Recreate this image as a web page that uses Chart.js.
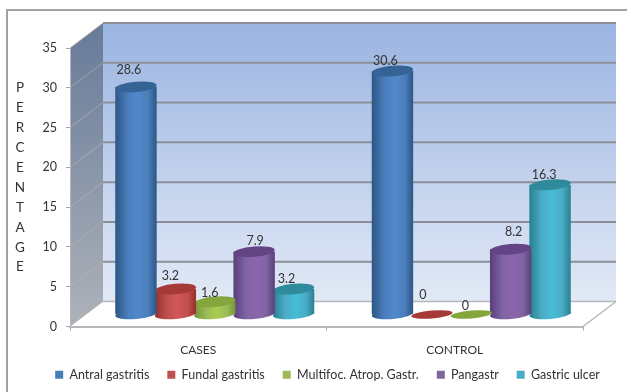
<!DOCTYPE html>
<html>
<head>
<meta charset="utf-8">
<style>
  html, body { margin: 0; padding: 0; background: #fff; }
  canvas { display: block; }
</style>
<script src="https://cdn.jsdelivr.net/npm/chart.js@4/dist/chart.umd.min.js"></script>
</head>
<body>
<canvas id="chart" width="627" height="392"></canvas>
<script>
// Gastric findings by study group, in percent
const categories = ['CASES', 'CONTROL'];
const seriesNames = ['Antral gastritis', 'Fundal gastritis', 'Multifoc. Atrop. Gastr.', 'Pangastr', 'Gastric ulcer'];
const antral = [28.6, 30.6];
const fundal = [3.2, 0];
const multifocal = [1.6, 0];
const pangastr = [7.9, 8.2];
const ulcer = [3.2, 16.3];
const seriesValues = [antral, fundal, multifocal, pangastr, ulcer];
const yTitleLetters = ['P', 'E', 'R', 'C', 'E', 'N', 'T', 'A', 'G', 'E'];

// Cylinder shading per series: edge, centre, cap
const palette = [
  { fill: '#4a7ebb', edge: '#2c5685', mid: '#5089cb', cap: '#366396' },
  { fill: '#c0504d', edge: '#93302d', mid: '#d4565a', cap: '#a63a36' },
  { fill: '#9bbb59', edge: '#769436', mid: '#a9cc4f', cap: '#84a63c' },
  { fill: '#8064a2', edge: '#5a3f7d', mid: '#8a65ac', cap: '#634484' },
  { fill: '#4bacc6', edge: '#27808f', mid: '#47bcd8', cap: '#2f8b9b' }
];

// Label nudges from the top of each cylinder, [dx, dy] per series and group
const labelNudge = [
  [[-7, -17], [-7, -10]],
  [[-5, -13], [-9, -20]],
  [[-5, -9], [-6, -9]],
  [[1, -11], [3, -17]],
  [[-7, -10], [-6, -10]]
];

// Projection of the 3D box: back wall offset and the plane the cylinders stand on
const wallDX = 33, wallDY = -25;
const barDX = 16.5, barDY = -12;
const legendShift = 36;
const TEXT = '#333';
const FONT = 'Lato, Carlito, sans-serif';

const box3d = {
  id: 'box3d',
  afterLayout(chart) {
    // The legend centres on the full canvas, not on the inset plot box
    chart.legend.left += legendShift;
    chart.legend.right += legendShift;
    // Category labels sit lower than the reserved band, so widen their clip box
    chart.scales.x.bottom += 16;
  },
  beforeDraw(chart) {
    const { ctx, chartArea: a, scales: { y } } = chart;
    const x0 = a.left, x1 = a.right, yT = a.top, yB = a.bottom;
    ctx.save();

    // Outer frame
    ctx.fillStyle = '#fff';
    ctx.fillRect(0, 0, chart.width, chart.height);
    ctx.strokeStyle = '#a3a3a3';
    ctx.lineWidth = 2;
    ctx.beginPath();
    ctx.moveTo(7, chart.height);
    ctx.lineTo(7, 10);
    ctx.lineTo(chart.width, 10);
    ctx.stroke();

    // Back wall
    let g = ctx.createLinearGradient(0, yT + wallDY, 0, yB + wallDY);
    g.addColorStop(0, '#9ab4e1');
    g.addColorStop(1, '#e2e9f6');
    ctx.fillStyle = g;
    ctx.fillRect(x0 + wallDX, yT + wallDY, x1 - x0, yB - yT);

    // Side wall
    g = ctx.createLinearGradient(0, yT + wallDY, 0, yB);
    g.addColorStop(0, '#667a99');
    g.addColorStop(1, '#aeb2b9');
    ctx.fillStyle = g;
    ctx.beginPath();
    ctx.moveTo(x0, yT);
    ctx.lineTo(x0 + wallDX, yT + wallDY);
    ctx.lineTo(x0 + wallDX, yB + wallDY);
    ctx.lineTo(x0, yB);
    ctx.closePath();
    ctx.fill();

    // Grid lines run across the back wall and fade along the side wall
    y.ticks.forEach(t => {
      const py = y.getPixelForValue(t.value);
      ctx.strokeStyle = 'rgba(190,182,165,0.65)';
      ctx.lineWidth = 1;
      ctx.beginPath();
      ctx.moveTo(x0, py);
      ctx.lineTo(x0 + wallDX, py + wallDY);
      ctx.stroke();

      ctx.strokeStyle = t.value === 0 ? '#b4b8bd' : '#8b9098';
      ctx.lineWidth = t.value === 0 ? 1.5 : 2;
      ctx.beginPath();
      ctx.moveTo(x0 + wallDX, py + wallDY);
      ctx.lineTo(x1 + wallDX, py + wallDY);
      ctx.stroke();
    });

    // Floor edges
    ctx.strokeStyle = '#b4b8bd';
    ctx.lineWidth = 1.5;
    ctx.beginPath();
    ctx.moveTo(x1, yB);
    ctx.lineTo(x1 + wallDX, yB + wallDY);
    ctx.stroke();

    // Stacked axis title
    ctx.fillStyle = TEXT;
    ctx.font = '13.5px ' + FONT;
    ctx.textAlign = 'center';
    ctx.textBaseline = 'middle';
    yTitleLetters.forEach((ch, i) => ctx.fillText(ch, 20, 88 + i * 19.9));
    ctx.restore();
  },

  // Each dataset draws as upright cylinders in place of flat rectangles
  beforeDatasetDraw(chart, { index }) {
    const { ctx } = chart;
    const colours = palette[index];
    chart.getDatasetMeta(index).data.forEach((bar, i) => {
      const cx = bar.x + barDX;
      const top = bar.y + barDY;
      const base = bar.base + barDY;
      const rx = bar.width / 2 + 1;
      const tilt = -5 * Math.PI / 180;
      const value = seriesValues[index][i];
      ctx.save();
      if (value > 0) {
        const g = ctx.createLinearGradient(cx - rx, 0, cx + rx, 0);
        g.addColorStop(0, colours.edge);
        g.addColorStop(0.3, colours.fill);
        g.addColorStop(0.55, colours.mid);
        g.addColorStop(0.8, colours.fill);
        g.addColorStop(1, colours.edge);
        ctx.fillStyle = g;
        ctx.beginPath();
        ctx.ellipse(cx, base, rx, 5, tilt, 0, Math.PI * 2);
        ctx.fill();
        ctx.fillRect(cx - rx, top, rx * 2, base - top);
        ctx.fillStyle = colours.cap;
        ctx.beginPath();
        ctx.ellipse(cx, top, rx, 5.2, tilt, 0, Math.PI * 2);
        ctx.fill();
      } else {
        ctx.fillStyle = colours.cap;
        ctx.beginPath();
        ctx.ellipse(cx, base, rx, 3.9, tilt, 0, Math.PI * 2);
        ctx.fill();
      }
      ctx.restore();
    });
    return false;
  },

  afterDatasetsDraw(chart) {
    const { ctx } = chart;
    ctx.save();
    ctx.fillStyle = TEXT;
    ctx.font = '12.5px ' + FONT;
    ctx.textAlign = 'center';
    ctx.textBaseline = 'middle';
    chart.data.datasets.forEach((ds, d) => {
      chart.getDatasetMeta(d).data.forEach((bar, i) => {
        const [dx, dy] = labelNudge[d][i];
        ctx.fillText(String(ds.data[i]), bar.x + barDX + dx, bar.y + barDY + dy);
      });
    });
    ctx.restore();
  }
};

new Chart(document.getElementById('chart'), {
  type: 'bar',
  data: {
    labels: categories,
    datasets: seriesNames.map((name, i) => ({
      label: name,
      data: seriesValues[i],
      backgroundColor: palette[i].fill,
      barPercentage: 1,
      categoryPercentage: 0.768
    }))
  },
  options: {
    responsive: false,
    animation: false,
    layout: { padding: { top: 48, right: 44, left: 0, bottom: 1 } },
    plugins: {
      tooltip: { enabled: false },
      legend: {
        position: 'bottom',
        labels: {
          boxWidth: 8,
          boxHeight: 8,
          padding: 18,
          color: TEXT,
          font: { family: FONT, size: 12.5 }
        }
      }
    },
    scales: {
      x: {
        afterFit(scale) { scale.height = 24; },
        border: { color: '#b4b8bd', width: 2 },
        grid: { drawOnChartArea: false, drawTicks: true, tickLength: 4, color: '#a3a6aa' },
        ticks: { color: TEXT, font: { family: FONT, size: 12 }, padding: 12 }
      },
      y: {
        min: 0,
        max: 35,
        afterFit(scale) { scale.width = 70; },
        border: { color: '#b4b8bd', width: 1 },
        grid: { drawOnChartArea: false, drawTicks: true, tickLength: 4, color: '#a3a6aa' },
        ticks: { stepSize: 5, color: TEXT, font: { family: FONT, size: 12.5 }, padding: 9 }
      }
    }
  },
  plugins: [box3d]
});
</script>
</body>
</html>
